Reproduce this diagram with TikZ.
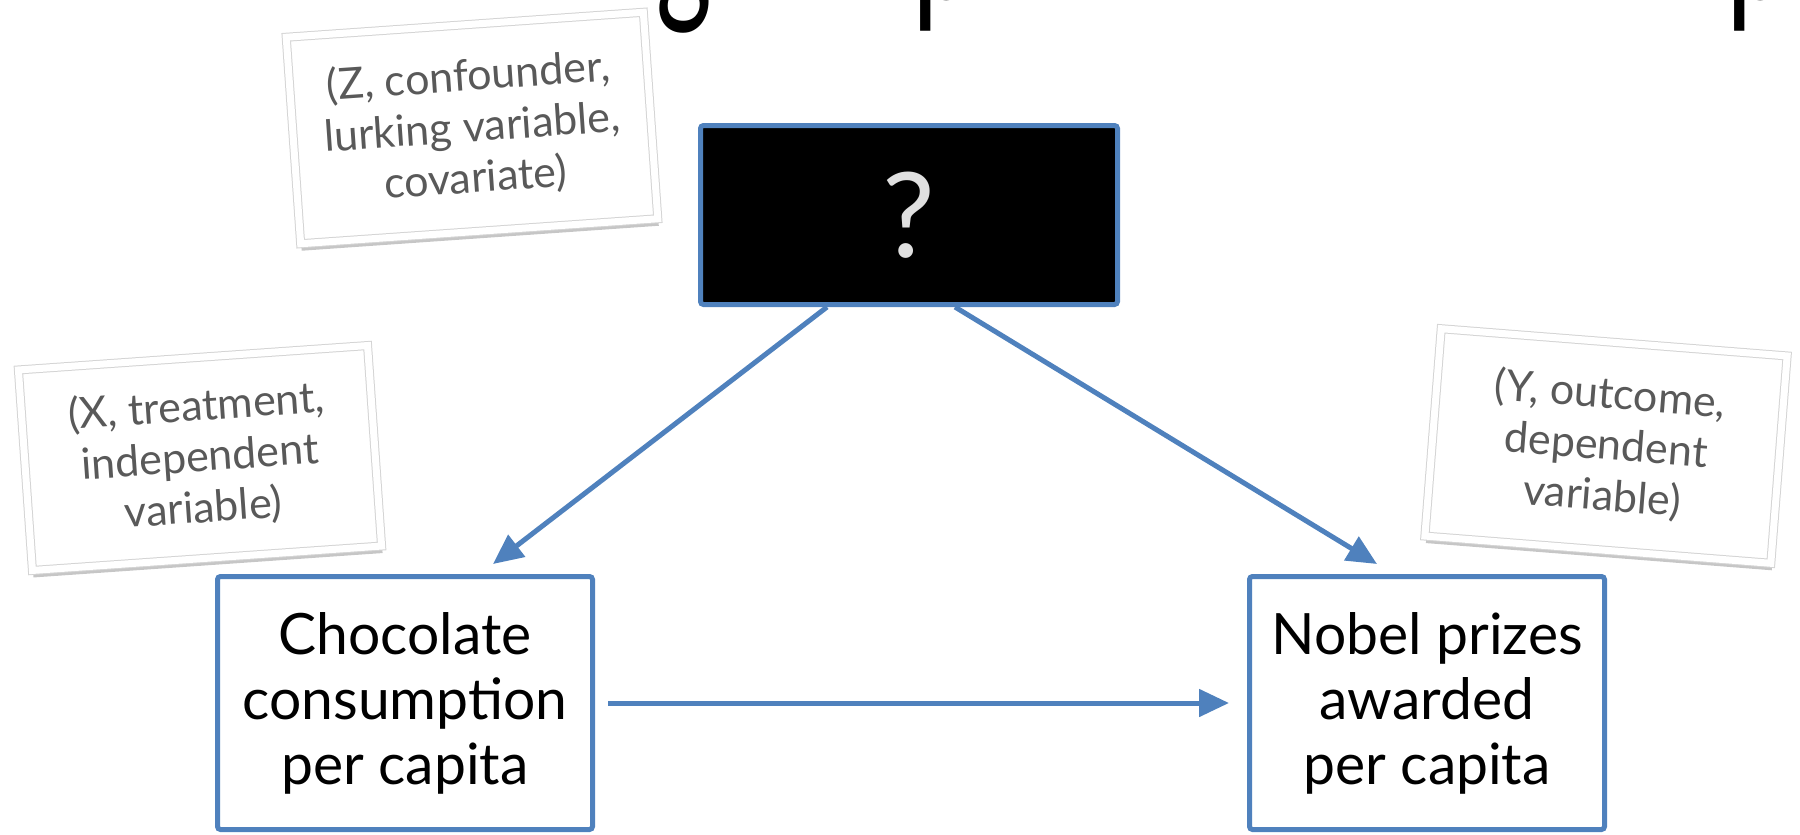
\documentclass[tikz,border=0pt]{standalone}
\usepackage{fontspec}
\setmainfont{Lato}
\usepackage{xcolor}
\usepackage{tikz}
\usetikzlibrary{arrows.meta,positioning,shadows}

\definecolor{dagblue}{HTML}{4F81BD}
\definecolor{notegray}{HTML}{595959}
\definecolor{qgray}{HTML}{E0E0E0}

\begin{document}
\begin{tikzpicture}[
                x=1pt, y=-1pt,
                varstep/.style={draw=dagblue, line width=5pt, rounded corners=3pt, fill=white, align=center, inner sep=0pt, minimum height=253pt, font=\fontsize{57}{65}\selectfont},
                hiddenstep/.style={draw=dagblue, line width=5pt, rounded corners=3pt, fill=black, text=qgray, minimum width=417pt, minimum height=179pt, font=\fontsize{118}{118}\selectfont},
                notestep/.style={draw=black!17, line width=1pt, double=white, double distance=7pt, fill=white, text=notegray, align=center, inner sep=0pt, font=\fontsize{43}{51}\selectfont, drop shadow={shadow xshift=1pt, shadow yshift=-7pt, opacity=0.45}},
                titlebit/.style={inner sep=0pt, font=\fontsize{185}{185}\selectfont},
                bus/.style={-{Triangle[length=30pt, width=27pt]}, line width=5pt, draw=dagblue}
            ]
            \useasboundingbox (0,0) rectangle (1800,835);
            % title above, only its descenders fall in the frame
            \begin{scope}
                \clip (0,0) rectangle (1800,835);
                \node[titlebit, anchor=base] (tg) at (684,0) {\scalebox{0.58}[1]{g}};
                \node[titlebit, anchor=base west] (tp1) at (912,0) {\scalebox{0.62}[1]{p}};
                \node[titlebit, anchor=base west] (tp2) at (1726,0) {\scalebox{0.62}[1]{p}};
            \end{scope}
            \node[notestep, rotate=4, minimum width=358pt, minimum height=207pt] (znote) at (472,128) {(Z, confounder,\\lurking variable,\\covariate)};
            \node[notestep, rotate=4, minimum width=350pt, minimum height=201pt] (xnote) at (200,458) {(X, treatment,\\independent\\variable)};
            \node[notestep, rotate=-4.5, minimum width=347pt, minimum height=208pt] (ynote) at (1606,446) {(Y, outcome,\\dependent\\variable)};
            \node[hiddenstep] (hidden) at (909,215) {?};
            \node[varstep, minimum width=375pt] (choc) at (405,703) {Chocolate\\consumption\\per capita};
            \node[varstep, minimum width=355pt, right=652pt of choc] (nobel) {Nobel prizes\\awarded\\per capita};
            \draw[bus] ([xshift=-82pt]hidden.south) -- ([xshift=88pt,yshift=10pt]choc.north);
            \draw[bus] ([xshift=46pt]hidden.south) -- ([xshift=-50pt,yshift=10pt]nobel.north);
            \draw[bus, shorten <=13pt, shorten >=18pt] (choc) -- (nobel);
        \end{tikzpicture}
\end{document}
